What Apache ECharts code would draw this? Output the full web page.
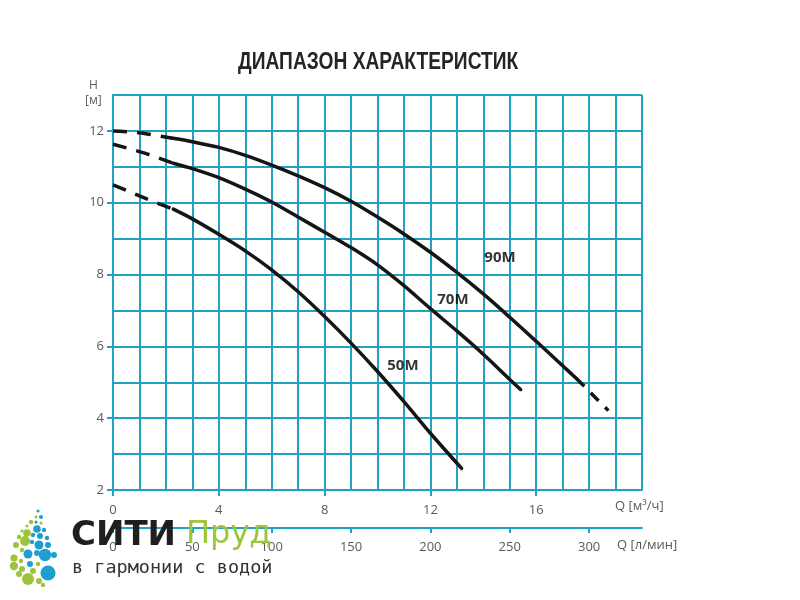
<!DOCTYPE html>
<html>
<head>
<meta charset="utf-8">
<script src="https://cdn.jsdelivr.net/npm/echarts@6/dist/echarts.min.js"></script>
<style>html,body{margin:0;padding:0;background:#fff}#c{width:800px;height:600px}</style>
</head>
<body>
<div id="c"></div>
<script>
// ---- data ----
const qTicks = [0, 4, 8, 12, 16];
const hTicks = [2, 4, 6, 8, 10, 12];
const lminTicks = [0, 50, 100, 150, 200, 250, 300];
const curveNames = ['90M', '70M', '50M'];

const q90Start = [0, 1, 2.2];
const h90Start = [12.0, 11.95, 11.8];
const q90 = [2.2, 3, 4, 5, 6, 7, 8, 9, 10, 11, 12, 13, 14, 15, 16, 17, 17.53];
const h90 = [11.8, 11.7, 11.54, 11.32, 11.05, 10.75, 10.42, 10.04, 9.6, 9.13, 8.62, 8.06, 7.46, 6.81, 6.14, 5.46, 5.1];
const q90End = [17.53, 18.73];
const h90End = [5.1, 4.21];

const q70Start = [0, 1.2, 2.28];
const h70Start = [11.63, 11.38, 11.1];
const q70 = [2.28, 3, 4, 5, 6, 7, 8, 9, 10, 11, 12, 13, 14, 15, 15.41];
const h70 = [11.1, 10.95, 10.7, 10.38, 10.02, 9.6, 9.18, 8.75, 8.27, 7.69, 7.05, 6.43, 5.78, 5.08, 4.8];

const q50Start = [0, 1.3, 2.28];
const h50Start = [10.5, 10.1, 9.82];
const q50 = [2.28, 3, 4, 5, 6, 7, 8, 9, 10, 11, 12, 13.18];
const h50 = [9.82, 9.55, 9.12, 8.66, 8.13, 7.52, 6.83, 6.09, 5.3, 4.46, 3.58, 2.6];

const labelQ = [14.63, 12.85, 10.96];
const labelH = [8.46, 7.29, 5.45];

// ---- styling ----
const TEAL = '#22a2c2';
const INK = '#151515';
const LBL = '#5a5a5a';

function pairs(q, h) { return q.map((v, i) => [v, h[i]]); }
function solid(q, h) {
  return { type: 'line', xAxisIndex: 0, yAxisIndex: 0, data: pairs(q, h), smooth: 0.3, symbol: 'none',
    lineStyle: { color: INK, width: 3.5, cap: 'round' }, z: 5, silent: true };
}
function dashed(q, h, pattern) {
  return { type: 'line', xAxisIndex: 0, yAxisIndex: 0, data: pairs(q, h), smooth: 0.3, symbol: 'none',
    lineStyle: { color: INK, width: 3.5, type: pattern, cap: 'butt' }, z: 5, silent: true };
}

const dropBlue = '#1f9fd0';
const dropGreen = '#9dc43c';
const dots = [
  [38,511,1.6,'b'],[36,517,1.6,'g'],[41,517,2,'b'],[31,522,2.2,'g'],[36,522,1.6,'b'],[41,523,1.6,'g'],
  [27,526,1.6,'g'],[37,529,3.8,'b'],[44,530,2.2,'b'],[22,531,1.6,'g'],[27,533,3.8,'g'],[33,535,2.2,'b'],
  [40,536,3,'b'],[47,538,2.2,'b'],[19,537,2.2,'g'],[25,541,5,'g'],[32,542,2.2,'b'],[39,545,4.5,'b'],
  [48,545,3,'b'],[16,545,3,'g'],[22,550,2.2,'g'],[28,554,4.5,'b'],[37,553,3,'b'],[45,555,6.2,'b'],
  [54,555,3,'b'],[14,558,3.6,'g'],[21,561,2.2,'g'],[30,564,3,'b'],[38,564,2.2,'g'],[48,573,7.5,'b'],
  [14,566,4.2,'g'],[22,569,3,'g'],[33,571,3,'g'],[28,579,6,'g'],[39,581,3,'g'],[43,585,2.2,'g'],[19,574,3,'g']
];

const gridAxisX = { type: 'value', min: 0, max: 20, interval: 1, position: 'bottom',
  axisLine: { show: true, lineStyle: { color: TEAL, width: 2 } }, axisTick: { show: false }, axisLabel: { show: false },
  splitLine: { show: true, lineStyle: { color: TEAL, width: 2 } } };
const gridAxisY = { type: 'value', min: 2, max: 13, interval: 1,
  axisLine: { show: true, lineStyle: { color: TEAL, width: 2 } }, axisTick: { show: false }, axisLabel: { show: false },
  splitLine: { show: true, lineStyle: { color: TEAL, width: 2 } } };

const chart = echarts.init(document.getElementById('c'), null, { renderer: 'canvas' });
const option = {
  backgroundColor: '#fff',
  animation: false,
  grid: { left: 113, right: 158, top: 95, bottom: 110 },
  xAxis: [
    gridAxisX,
    {
      type: 'value', min: 0, max: 20, interval: 4, position: 'bottom',
      axisLine: { show: false },
      axisTick: { show: true, customValues: qTicks, length: 6, lineStyle: { color: TEAL, width: 2 } },
      axisLabel: { show: true, customValues: qTicks, margin: 14, color: LBL, fontSize: 13, fontFamily: 'Open Sans, sans-serif' },
      splitLine: { show: false }
    },
    {
      type: 'value', min: 0, max: 1000 / 3, interval: 50, position: 'bottom', offset: 38,
      axisLine: { show: true, onZero: false, lineStyle: { color: TEAL, width: 2 } },
      axisTick: { show: true, customValues: lminTicks, length: 5, lineStyle: { color: TEAL, width: 2 } },
      axisLabel: { show: true, customValues: lminTicks, margin: 13, color: LBL, fontSize: 13, fontFamily: 'Open Sans, sans-serif' },
      splitLine: { show: false }
    }
  ],
  yAxis: [
    gridAxisY,
    {
      type: 'value', min: 2, max: 13, interval: 2, position: 'left',
      axisLine: { show: false },
      axisTick: { show: true, customValues: hTicks, length: 6, lineStyle: { color: TEAL, width: 2 } },
      axisLabel: { show: true, customValues: hTicks, margin: 9, color: LBL, fontSize: 13, fontFamily: 'Open Sans, sans-serif' },
      splitLine: { show: false }
    }
  ],
  series: [
    dashed(q90Start, h90Start, [14, 10]), solid(q90, h90), dashed(q90End, h90End, [11, 9]),
    dashed(q70Start, h70Start, [14, 10]), solid(q70, h70),
    dashed(q50Start, h50Start, [14, 10]), solid(q50, h50),
    {
      type: 'scatter', xAxisIndex: 0, yAxisIndex: 0, symbolSize: 0, silent: true, z: 6,
      data: curveNames.map((n, i) => ({ name: n, value: [labelQ[i], labelH[i]] })),
      label: { show: true, position: 'inside', formatter: p => p.name, color: '#000', fontSize: 15, fontWeight: 'bold', fontFamily: 'Open Sans, sans-serif' }
    }
  ],
  graphic: [
    { type: 'text', x: 238, y: 50, scaleX: 0.8, z: 10, style: { text: 'ДИАПАЗОН ХАРАКТЕРИСТИК', fill: '#252525', font: 'bold 24px "Liberation Sans", sans-serif' } },
    { type: 'text', left: 89, top: 80, z: 10, style: { text: 'H', fill: LBL, font: '12px "Open Sans", sans-serif' } },
    { type: 'text', left: 85, top: 95, z: 10, style: { text: '[м]', fill: LBL, font: '12px "Open Sans", sans-serif' } },
    { type: 'text', left: 615, top: 500, z: 10, style: { text: 'Q [м³/ч]', fill: LBL, font: '13px "Open Sans", sans-serif' } },
    { type: 'text', left: 617, top: 539, z: 10, style: { text: 'Q [л/мин]', fill: LBL, font: '13px "Open Sans", sans-serif' } },
    { type: 'text', left: 71, top: 519, z: 20, style: { text: 'СИТИ', fill: '#1f1f1f', font: 'bold 34px "DejaVu Sans", sans-serif' } },
    { type: 'text', left: 186, top: 519, z: 20, style: { text: 'Пруд', fill: '#9cc63b', font: '32px "DejaVu Sans", sans-serif' } },
    { type: 'text', left: 72, top: 559, z: 20, style: { text: 'в гармонии с водой', fill: '#333', font: '18.5px "DejaVu Sans Mono", monospace' } }
  ].concat(dots.map(d => ({
    type: 'circle', z: 20, shape: { cx: d[0], cy: d[1], r: d[2] }, style: { fill: d[3] === 'b' ? dropBlue : dropGreen }
  })))
};
chart.setOption(option);
</script>
</body>
</html>
